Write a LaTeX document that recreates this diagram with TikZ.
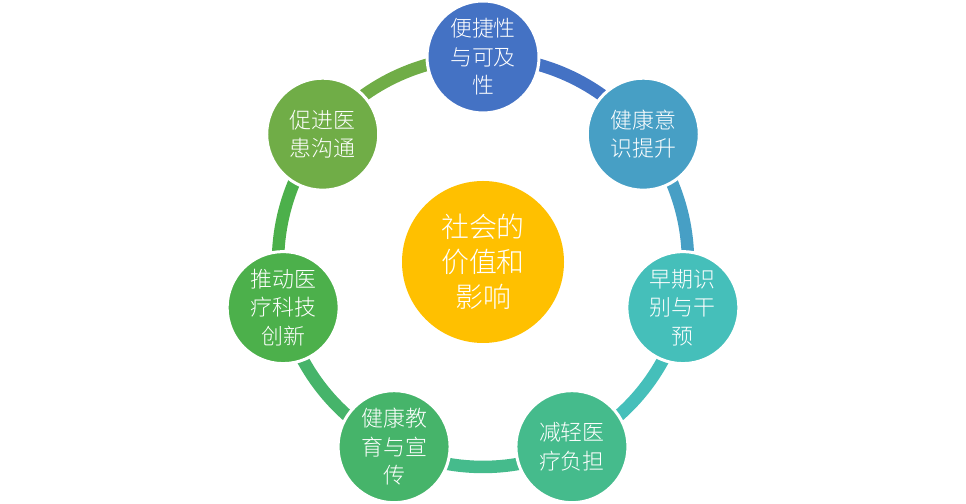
\documentclass[tikz,border=0pt]{standalone}
\usepackage{fontspec}
\setmainfont{Noto Sans CJK SC}[UprightFont=* Light]
\usetikzlibrary{math,calc}

\definecolor{convcol}{HTML}{4472C4}
\definecolor{awarecol}{HTML}{479FC5}
\definecolor{earlycol}{HTML}{45BFBA}
\definecolor{burdencol}{HTML}{45BB8C}
\definecolor{educol}{HTML}{46B46A}
\definecolor{innocol}{HTML}{4CB04B}
\definecolor{commcol}{HTML}{70AD47}
\definecolor{hubcol}{HTML}{FFC000}

\begin{document}
\begin{tikzpicture}
   [
      x=1bp, y=1bp,
      item/.style={circle, draw=white, line width=3bp, minimum size=112bp,
      inner sep=0pt, text=white, align=center,
      font=\fontsize{22}{28.5}\selectfont},
      hub/.style={circle, fill=hubcol, minimum size=162bp, inner sep=0pt,
      text=white, align=center, font=\fontsize{28}{35}\selectfont},
      ring/.style={line width=12.5bp}
   ]
   \useasboundingbox (0,0) rectangle (966,504);
   \coordinate (centre) at (483,242);

   \foreach \i/\col in {0/convcol,1/awarecol,2/earlycol,3/burdencol,
      4/educol,5/innocol,6/commcol} {
      \tikzmath{
         \a = 90-360/7*\i;
      }
      \coordinate (p\i) at ($(centre)+(\a:205)$);
      \draw[ring, \col] (p\i) arc[start angle=\a, end angle=\a-360/7,
         radius=205];
   }

   \foreach \i/\name/\col/\txt in {
      0/convenience/convcol/{便捷性\\与可及\\性},
      1/awareness/awarecol/{健康意\\识提升},
      2/early/earlycol/{早期识\\别与干\\预},
      3/burden/burdencol/{减轻医\\疗负担},
      4/education/educol/{健康教\\育与宣\\传},
      5/innovation/innocol/{推动医\\疗科技\\创新},
      6/communication/commcol/{促进医\\患沟通}}
      \node[item, fill=\col] (\name) at (p\i) {\txt};

   \node[hub] (value) at (centre) {社会的\\价值和\\影响};
\end{tikzpicture}
\end{document}
